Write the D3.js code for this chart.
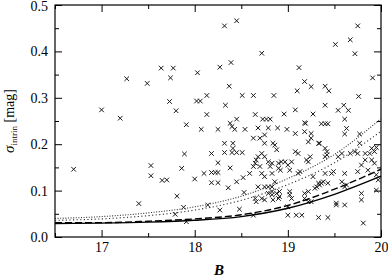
<!DOCTYPE html>
<html>
<head>
<meta charset="utf-8">
<script src="https://cdn.jsdelivr.net/npm/d3@7"></script>
<style>
  body { margin: 0; background: #fff; }
  text { font-family: "Liberation Serif", "DejaVu Serif", serif; }
</style>
</head>
<body>
<div id="chart"></div>
<script>
// B magnitude and intrinsic scatter of each object
var bMag = [
  16.70,17.00,17.20,17.27,17.49,17.64,17.53,17.53,17.65,17.40,
  17.77,17.74,18.03,18.27,18.39,18.32,18.45,18.72,18.37,18.13,
  18.02,18.06,18.51,18.63,18.85,17.73,17.80,18.33,18.13,18.65,
  18.73,18.77,18.81,18.45,19.75,19.67,19.51,19.72,19.12,19.91,
  19.18,19.25,19.10,19.40,19.44,19.76,19.40,19.60,19.54,19.65,
  18.96,19.08,19.27,19.61,19.18,
  17.91,18.07,18.25,18.38,18.40,18.43,18.54,18.63,18.70,18.75,
  18.75,18.84,18.32,18.41,18.32,18.41,18.40,18.45,18.51,17.89,
  18.18,18.25,17.86,18.38,18.10,18.18,18.22,18.25,18.00,17.70,
  18.18,18.25,18.36,18.45,18.52,18.59,17.81,18.53,18.14,17.88,
  18.27,18.48,17.79,17.91,18.63,
  18.65,18.63,18.66,18.68,18.72,18.75,18.70,18.79,18.83,18.81,
  18.72,18.75,18.83,18.68,18.75,18.79,18.83,18.83,18.79,18.65,
  18.72,18.75,18.66,18.83,18.84,
  19.19,19.36,19.40,19.43,18.99,19.08,19.25,19.25,19.22,19.33,
  19.34,19.61,19.77,19.77,19.95,19.90,19.93,19.88,19.40,19.42,
  19.42,19.40,19.11,19.08,19.24,19.20,19.22,18.86,18.88,18.90,
  18.93,18.97,19.04,19.00,18.90,19.67,19.72,19.75,19.83,19.90,
  19.93,19.79,19.83,19.49,19.47,19.40,19.61,19.86,19.75,19.13,
  19.11,19.58,19.54,19.27,18.92,19.02,18.86,19.38,19.36,19.33,
  19.31,19.34,19.29,19.43,19.58,19.61,19.63,19.22,19.18,19.02,
  19.02,19.04,18.91,18.91,18.90,18.88,19.18,19.25,19.22,19.79,
  19.79,19.52,19.52,19.61,19.95,19.95,19.97,19.00,19.00,19.09,
  19.15,19.33,19.43,19.81,18.68,18.79,18.89,19.18,19.63
];
var sigmaIntrin = [
  0.146,0.274,0.256,0.341,0.331,0.364,0.154,0.132,0.122,0.072,
  0.364,0.343,0.354,0.366,0.376,0.455,0.466,0.396,0.325,0.305,
  0.293,0.293,0.305,0.305,0.305,0.292,0.272,0.284,0.264,0.264,
  0.254,0.254,0.254,0.254,0.455,0.425,0.415,0.395,0.365,0.343,
  0.335,0.324,0.315,0.325,0.315,0.303,0.284,0.284,0.273,0.273,
  0.265,0.274,0.265,0.254,0.246,
  0.242,0.232,0.232,0.245,0.238,0.232,0.232,0.213,0.213,0.220,
  0.202,0.202,0.202,0.202,0.182,0.191,0.182,0.182,0.182,0.179,
  0.180,0.160,0.148,0.149,0.137,0.139,0.139,0.139,0.125,0.123,
  0.117,0.117,0.106,0.119,0.128,0.137,0.088,0.096,0.069,0.064,
  0.058,0.060,0.049,0.033,0.047,
  0.159,0.152,0.166,0.173,0.180,0.173,0.152,0.162,0.159,0.152,
  0.137,0.130,0.137,0.108,0.108,0.108,0.108,0.098,0.094,0.083,
  0.083,0.080,0.076,0.091,0.080,
  0.245,0.244,0.244,0.244,0.232,0.223,0.223,0.213,0.205,0.202,
  0.202,0.222,0.222,0.202,0.193,0.191,0.184,0.180,0.191,0.184,
  0.177,0.173,0.180,0.184,0.173,0.166,0.162,0.198,0.188,0.159,
  0.162,0.162,0.162,0.155,0.148,0.180,0.184,0.180,0.180,0.166,
  0.159,0.155,0.166,0.141,0.137,0.137,0.137,0.144,0.141,0.141,
  0.137,0.180,0.173,0.130,0.144,0.144,0.119,0.119,0.116,0.116,
  0.108,0.112,0.105,0.116,0.119,0.108,0.112,0.098,0.094,0.098,
  0.091,0.083,0.098,0.087,0.083,0.094,0.083,0.076,0.076,0.094,
  0.080,0.073,0.069,0.069,0.134,0.101,0.123,0.065,0.047,0.047,
  0.047,0.042,0.042,0.030,0.235,0.235,0.235,0.227,0.234
];

// model curves
var curveB      = [16.5, 17.0, 17.5, 18.0, 18.5, 19.0, 19.5, 20.0];
var solidSig    = [0.029, 0.030, 0.032, 0.036, 0.044, 0.062, 0.092, 0.131];
var dashedSig   = [0.031, 0.031, 0.034, 0.039, 0.048, 0.068, 0.103, 0.146];
var dotLowSig   = [0.036, 0.039, 0.046, 0.058, 0.079, 0.113, 0.160, 0.228];
var dotHighSig  = [0.040, 0.044, 0.052, 0.065, 0.088, 0.126, 0.178, 0.255];

var xMajor = [17, 18, 19, 20];
var xMinor = [16.5, 17.5, 18.5, 19.5];
var yMajor = [0, 0.1, 0.2, 0.3, 0.4, 0.5];
var yMinor = [0.05, 0.15, 0.25, 0.35, 0.45];

var svgWidth = 388, svgHeight = 279;
var margin = {top: 5, right: 7, bottom: 42, left: 55};
var chartWidth = svgWidth - margin.left - margin.right;
var chartHeight = svgHeight - margin.top - margin.bottom;

var svg = d3.select("#chart").append("svg")
  .attr("width", svgWidth)
  .attr("height", svgHeight);

var chartGroup = svg.append("g")
  .attr("transform", `translate(${margin.left},${margin.top})`);

var xScale = d3.scaleLinear().domain([16.5, 20]).range([0, chartWidth]);
var yScale = d3.scaleLinear().domain([0, 0.5]).range([chartHeight, 0]);

// ticks, all pointing inward
function addAxis(axisFn, scale, values, size, pos, fmt) {
  var ax = axisFn(scale).tickValues(values).tickSizeInner(-size).tickSizeOuter(0)
    .tickFormat(fmt ? d3.format(fmt) : "");
  var g = chartGroup.append("g").attr("transform", pos).call(ax);
  g.select(".domain").remove();
  g.selectAll(".tick line").attr("stroke", "#000").attr("stroke-width", 1);
  g.selectAll("text").attr("font-size", 14).attr("fill", "#000")
    .attr("font-family", "Liberation Serif, DejaVu Serif, serif");
  return g;
}

var bottom = addAxis(d3.axisBottom, xScale, xMajor, 7, `translate(0,${chartHeight})`, "d");
bottom.selectAll("text").attr("y", 5);
addAxis(d3.axisBottom, xScale, xMinor, 4, `translate(0,${chartHeight})`, null);
addAxis(d3.axisTop, xScale, xMajor, 7, "translate(0,0)", null);
addAxis(d3.axisTop, xScale, xMinor, 4, "translate(0,0)", null);

var left = addAxis(d3.axisLeft, yScale, yMajor, 7, "translate(0,0)", ".1f");
left.selectAll("text").attr("x", -7)
  .attr("y", d => d === 0.5 ? 1.5 : 0);
addAxis(d3.axisLeft, yScale, yMinor, 4, "translate(0,0)", null);
addAxis(d3.axisRight, yScale, yMajor, 7, `translate(${chartWidth},0)`, null);
addAxis(d3.axisRight, yScale, yMinor, 4, `translate(${chartWidth},0)`, null);

// frame
chartGroup.append("rect")
  .attr("width", chartWidth).attr("height", chartHeight)
  .attr("fill", "none").attr("stroke", "#000").attr("stroke-width", 1.2);

// scatter crosses
var pts = bMag.map((b, i) => [b, sigmaIntrin[i]]);
chartGroup.append("g").selectAll("path")
  .data(pts).enter().append("path")
  .attr("transform", d => `translate(${xScale(d[0])},${yScale(d[1])})`)
  .attr("d", "M-2.3,-2.3L2.3,2.3M-2.3,2.3L2.3,-2.3")
  .attr("stroke", "#1a1a1a").attr("stroke-width", 1).attr("fill", "none");

// curves
var line = d3.line()
  .x(d => xScale(d[0]))
  .y(d => yScale(d[1]))
  .curve(d3.curveMonotoneX);

var curves = [
  {vals: dotHighSig, dash: "1,1.6", w: 1.1, col: "#333"},
  {vals: dotLowSig, dash: "1.2,2.4", w: 1.1, col: "#333"},
  {vals: dashedSig, dash: "7,3", w: 1.4, col: "#000"},
  {vals: solidSig, dash: null, w: 1.4, col: "#000"}
];
curves.forEach(function(c) {
  chartGroup.append("path")
    .datum(curveB.map((b, i) => [b, c.vals[i]]))
    .attr("d", line)
    .attr("fill", "none")
    .attr("stroke", c.col)
    .attr("stroke-width", c.w)
    .attr("stroke-dasharray", c.dash);
});

// axis titles
svg.append("text")
  .attr("x", margin.left + chartWidth / 2 + 1)
  .attr("y", 275)
  .attr("text-anchor", "middle")
  .attr("font-size", 15)
  .attr("font-style", "italic")
  .attr("font-weight", "bold")
  .text("B");

var yTitle = svg.append("text")
  .attr("transform", `translate(14,${margin.top + chartHeight / 2}) rotate(-90)`)
  .attr("text-anchor", "middle")
  .attr("font-size", 14);
yTitle.append("tspan").attr("font-style", "italic").attr("font-size", 15).text("σ");
yTitle.append("tspan").attr("font-size", 9).attr("dy", 3).text("intrin");
yTitle.append("tspan").attr("dy", -3).text(" [mag]");
</script>
</body>
</html>
